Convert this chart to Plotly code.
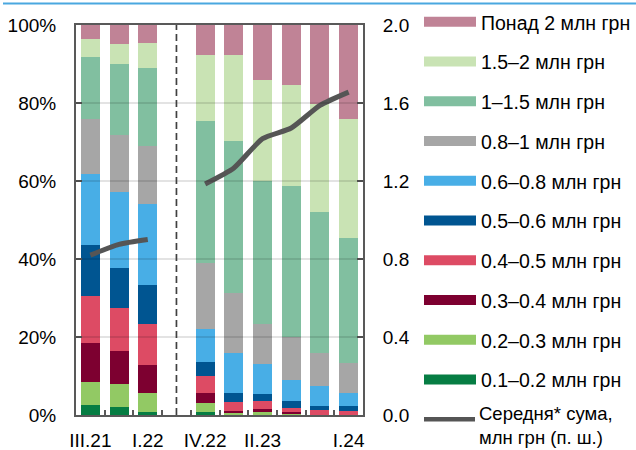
import plotly.graph_objects as go

# кварталы; між I.22 та IV.22 порожній проміжок (початок війни)
quarters = ["III.21", "IV.21", "I.22", "IV.22", "I.23", "II.23", "III.23", "IV.23", "I.24"]
gap = "gap"
tick_labels = {"III.21": "III.21", "I.22": "I.22", "IV.22": "IV.22", "II.23": "II.23", "I.24": "I.24"}

# частки, % (знизу вгору)
b_01_02 = [2.6, 2.1, 0.85, 0.85, 0.15, 0.2, 0.1, 0.0, 0.0]
b_02_03 = [5.9, 5.8, 4.75, 2.15, 0.25, 0.5, 0.15, 0.05, 0.05]
b_03_04 = [9.9, 8.6, 7.3, 2.7, 0.7, 0.9, 0.6, 0.05, 0.05]
b_04_05 = [12.2, 10.9, 10.4, 4.2, 2.2, 2.0, 0.95, 1.2, 0.85]
b_05_06 = [13.0, 10.4, 10.0, 3.8, 2.4, 1.8, 1.7, 1.1, 1.35]
b_06_08 = [18.3, 19.5, 20.9, 8.4, 10.3, 7.7, 5.6, 5.0, 3.4]
b_08_10 = [14.0, 14.5, 14.8, 17.0, 15.2, 10.2, 10.8, 8.4, 7.7]
b_10_15 = [15.9, 18.3, 20.1, 36.2, 39.1, 36.7, 38.9, 36.3, 32.0]
b_15_20 = [4.6, 5.1, 6.3, 17.1, 22.1, 26.0, 25.8, 27.6, 30.6]
b_20_up = [3.6, 4.8, 4.6, 7.6, 7.6, 14.0, 15.4, 20.3, 24.0]

# середня сума, млн грн (права шкала)
avg_sum = [0.82, 0.875, 0.90, 1.185, 1.267, 1.417, 1.472, 1.588, 1.656]

bands = [
    ("0.1–0.2 млн грн", b_01_02, "#067d43"),
    ("0.2–0.3 млн грн", b_02_03, "#92c964"),
    ("0.3–0.4 млн грн", b_03_04, "#7d0030"),
    ("0.4–0.5 млн грн", b_04_05, "#dd4b64"),
    ("0.5–0.6 млн грн", b_05_06, "#005591"),
    ("0.6–0.8 млн грн", b_06_08, "#48aee6"),
    ("0.8–1 млн грн", b_08_10, "#a6a6a6"),
    ("1–1.5 млн грн", b_10_15, "#81bfa0"),
    ("1.5–2 млн грн", b_15_20, "#c9e3b4"),
    ("Понад 2 млн грн", b_20_up, "#c08396"),
]
line_name = "Середня* сума,<br>млн грн (п. ш.)"
line_color = "#555555"

categories = quarters[:3] + [gap] + quarters[3:]
gap_idx = categories.index(gap)

font = dict(family="Arial, Liberation Sans, sans-serif", size=19, color="#000000")
legend_font = dict(family="Arial, Liberation Sans, sans-serif", size=19.5, color="#000000")
axis_color = "#595959"

fig = go.Figure()
for name, vals, col in bands:
    fig.add_trace(go.Bar(x=quarters, y=vals, name=name, marker_color=col,
                         marker_line_width=0, showlegend=False))

fig.add_trace(go.Scatter(x=categories, y=avg_sum[:3] + [None] + avg_sum[3:],
                         yaxis="y2", mode="lines", connectgaps=False,
                         line=dict(color=line_color, width=5, shape="spline", smoothing=0.6),
                         showlegend=False))

fig.update_layout(
    width=636, height=450,
    margin=dict(l=76, r=273, t=25, b=35),
    plot_bgcolor="white", paper_bgcolor="white",
    barmode="stack", bargap=0.34,
    font=font,
    xaxis=dict(type="category", categoryorder="array", categoryarray=categories,
               range=[-0.5, len(categories) - 0.5],
               tickmode="array", tickvals=categories,
               ticktext=[tick_labels.get(c, "") for c in categories],
               tickangle=0, automargin=False,
               tickson="boundaries", ticks="inside", ticklen=5, tickwidth=1.5,
               tickcolor=axis_color, showline=True, linecolor=axis_color, linewidth=2,
               mirror=True, showgrid=False, ticklabelstandoff=7),
    yaxis=dict(range=[0, 100], dtick=20, ticksuffix="%", ticks="inside", ticklen=6,
               tickwidth=2, tickcolor=axis_color, showline=True, linecolor=axis_color,
               linewidth=2, showgrid=False, zeroline=False, ticklabelstandoff=14,
               automargin=False),
    yaxis2=dict(range=[0, 2], dtick=0.4, tickformat=".1f", overlaying="y", side="right",
                ticks="inside", ticklen=6, tickwidth=2, tickcolor=axis_color,
                showline=True, linecolor=axis_color, linewidth=2, showgrid=False,
                zeroline=False, ticklabelstandoff=14, automargin=False),
)

# сітка поверх стовпчиків
for v in [20, 40, 60, 80]:
    fig.add_shape(type="line", xref="paper", yref="y", x0=0, x1=1, y0=v, y1=v,
                  line=dict(color="rgba(0,0,0,0.15)", width=1.5), layer="above")

# пунктирна лінія в проміжку
fig.add_shape(type="line", xref="x", yref="paper", x0=gap_idx, x1=gap_idx, y0=0, y1=1,
              line=dict(color="#404040", width=1.7, dash="7px,4px"))

# синя лінія вгорі
plot_w, plot_h = 287, 390
fig.add_shape(type="line", xref="paper", yref="paper",
              x0=(3 - 76) / plot_w, x1=(636 - 76) / plot_w,
              y0=(415 - 3.5) / plot_h, y1=(415 - 3.5) / plot_h,
              line=dict(color="#4aa8e0", width=2))

# легенда вручну
def px_x(px):
    return (px - 76) / plot_w

def px_y(py):
    return (415 - py) / plot_h

for i, (name, vals, col) in enumerate(reversed(bands)):
    cy = 21.7 + 39.75 * i
    fig.add_shape(type="rect", xref="paper", yref="paper",
                  x0=px_x(424), x1=px_x(476), y0=px_y(cy + 5), y1=px_y(cy - 5),
                  fillcolor=col, line_width=0)
    fig.add_annotation(xref="paper", yref="paper", x=px_x(479), y=px_y(cy + 1),
                       text=name, showarrow=False, xanchor="left", yanchor="middle",
                       font=legend_font)

cy = 21.7 + 39.75 * len(bands)
fig.add_shape(type="line", xref="paper", yref="paper",
              x0=px_x(424), x1=px_x(475), y0=px_y(cy), y1=px_y(cy),
              line=dict(color=line_color, width=4.5))
fig.add_annotation(xref="paper", yref="paper", x=px_x(477), y=px_y(450),
                   text=line_name, showarrow=False, xanchor="left", yanchor="bottom",
                   align="left", font=dict(legend_font, size=18.5))

fig.write_html("out.html", config={"displayModeBar": False},
               post_script="document.body.style.margin='0';")
